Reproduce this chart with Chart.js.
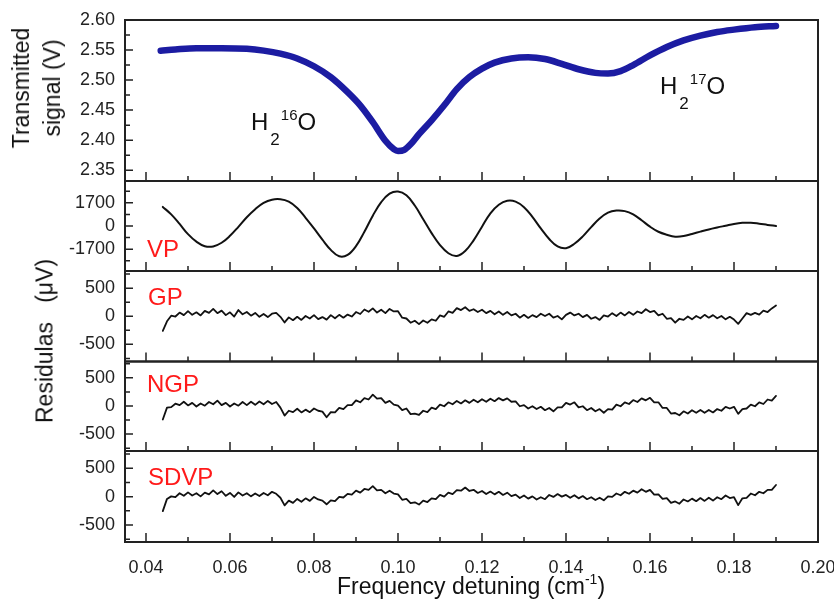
<!DOCTYPE html>
<html>
<head>
<meta charset="utf-8">
<script src="https://cdn.jsdelivr.net/npm/chart.js@4.4.0/dist/chart.umd.min.js"></script>
<style>
  body { margin: 0; background: #fff; }
  #wrap { position: relative; width: 834px; height: 599px; overflow: hidden;
          font-family: "Liberation Sans", Arial, sans-serif; color: #111; }
  #wrap canvas { position: absolute; left: 0; top: 0; }
  .txt { position: absolute; white-space: nowrap; }
  .ytitle { transform: translate(-50%, -50%) rotate(-90deg); text-align: center; font-size: 23px; line-height: 31px; }
  .xtitle { transform: translateX(-50%); font-size: 23px; line-height: 23px; }
  .xtitle sup { font-size: 14px; line-height: 0; vertical-align: 0; position: relative; top: -10px; }
  .iso { font-size: 24px; line-height: 24px; }
  .iso .sb { font-size: 17px; position: relative; top: 15px; margin-left: 2px; }
  .iso .sp { font-size: 15px; position: relative; top: -10px; margin-left: 1px; }
  .lab { font-size: 24px; line-height: 24px; color: #ff1a1a; }
</style>
</head>
<body>
<div id="wrap">
  <canvas id="p1" width="834" height="599"></canvas>
  <canvas id="p2" width="834" height="599"></canvas>
  <canvas id="p3" width="834" height="599"></canvas>
  <canvas id="p4" width="834" height="599"></canvas>
  <canvas id="p5" width="834" height="599"></canvas>

  <div class="txt ytitle" style="left:36.5px;top:87.5px">Transmitted<br>signal (V)</div>
  <div class="txt ytitle" style="left:45px;top:341px">Residulas&nbsp;&nbsp;&nbsp;(μV)</div>
  <div class="txt xtitle" style="left:471px;top:575px">Frequency detuning (cm<sup>-1</sup>)</div>

  <div class="txt iso" style="left:251px;top:109.7px">H<span class="sb">2</span><span class="sp">16</span>O</div>
  <div class="txt iso" style="left:660px;top:73.7px">H<span class="sb">2</span><span class="sp">17</span>O</div>

  <div class="txt lab" style="left:147px;top:236.7px">VP</div>
  <div class="txt lab" style="left:148px;top:284.7px">GP</div>
  <div class="txt lab" style="left:147px;top:371.7px">NGP</div>
  <div class="txt lab" style="left:148px;top:464.7px">SDVP</div>
</div>

<script>
// shared x axis (cm-1)
const xMin = 0.035;
const xMax = 0.20;
const xMajorTicks = [0.04, 0.06, 0.08, 0.10, 0.12, 0.14, 0.16, 0.18, 0.20];
const xMinorTicks = [0.05, 0.07, 0.09, 0.11, 0.13, 0.15, 0.17, 0.19];

// top panel: transmitted signal (V)
const sigX = [0.0435, 0.047, 0.052, 0.058, 0.064, 0.068, 0.072, 0.076, 0.080, 0.084,
              0.088, 0.091, 0.094, 0.097, 0.099, 0.100, 0.1015, 0.103, 0.105, 0.108,
              0.111, 0.114, 0.117, 0.120, 0.123, 0.127, 0.131, 0.135, 0.139, 0.143,
              0.147, 0.150, 0.153, 0.156, 0.160, 0.164, 0.168, 0.172, 0.176, 0.180,
              0.185, 0.190];
const sigV = [2.549, 2.551, 2.553, 2.553, 2.552, 2.549, 2.544, 2.536, 2.523, 2.505,
              2.480, 2.458, 2.430, 2.399, 2.385, 2.382, 2.384, 2.393, 2.410, 2.433,
              2.458, 2.485, 2.505, 2.519, 2.529, 2.536, 2.538, 2.535, 2.527, 2.518,
              2.512, 2.511, 2.515, 2.525, 2.541, 2.555, 2.566, 2.574, 2.580, 2.584,
              2.588, 2.590];
const sigMajor = [2.35, 2.40, 2.45, 2.50, 2.55, 2.60];
const sigMinor = [2.375, 2.425, 2.475, 2.525, 2.575];

// VP residual (uV)
const vpX = [0.044, 0.046, 0.048, 0.050, 0.052, 0.054, 0.056, 0.058, 0.060, 0.062,
             0.064, 0.066, 0.068, 0.070, 0.072, 0.074, 0.076, 0.078, 0.080, 0.082,
             0.084, 0.086, 0.088, 0.090, 0.092, 0.094, 0.096, 0.098, 0.100, 0.102,
             0.104, 0.106, 0.108, 0.110, 0.112, 0.114, 0.116, 0.118, 0.120, 0.122,
             0.124, 0.126, 0.128, 0.130, 0.132, 0.134, 0.136, 0.138, 0.140, 0.142,
             0.144, 0.146, 0.148, 0.150, 0.152, 0.154, 0.156, 0.158, 0.160, 0.162,
             0.164, 0.166, 0.168, 0.170, 0.172, 0.174, 0.176, 0.178, 0.180, 0.182,
             0.184, 0.186, 0.188, 0.190];
const vpV = [1400, 850, 150, -600, -1150, -1480, -1500, -1230, -720, -60,
             640, 1230, 1690, 1930, 1960, 1780, 1320, 600, -180, -1000,
             -1750, -2220, -2120, -1480, -420, 760, 1750, 2370, 2530, 2250,
             1500, 500, -520, -1400, -2000, -2200, -1830, -1050, -50, 930,
             1560, 1850, 1790, 1380, 670, -180, -950, -1500, -1630, -1300,
             -760, -80, 550, 980, 1130, 1090, 850, 420, -50, -420,
             -640, -780, -740, -580, -410, -250, -110, 20, 150, 230,
             240, 170, 80, 0];
const vpMajor = [-1700, 0, 1700];
const vpMinor = [-2550, -850, 850, 2550];

// GP / NGP / SDVP residuals (uV)
const residX = [0.044, 0.045, 0.046, 0.047, 0.048, 0.049, 0.050, 0.051, 0.052, 0.053,
                0.054, 0.055, 0.056, 0.057, 0.058, 0.059, 0.060, 0.061, 0.062, 0.063,
                0.064, 0.065, 0.066, 0.067, 0.068, 0.069, 0.070, 0.071, 0.072, 0.073,
                0.074, 0.075, 0.076, 0.077, 0.078, 0.079, 0.080, 0.081, 0.082, 0.083,
                0.084, 0.085, 0.086, 0.087, 0.088, 0.089, 0.090, 0.091, 0.092, 0.093,
                0.094, 0.095, 0.096, 0.097, 0.098, 0.099, 0.100, 0.101, 0.102, 0.103,
                0.104, 0.105, 0.106, 0.107, 0.108, 0.109, 0.110, 0.111, 0.112, 0.113,
                0.114, 0.115, 0.116, 0.117, 0.118, 0.119, 0.120, 0.121, 0.122, 0.123,
                0.124, 0.125, 0.126, 0.127, 0.128, 0.129, 0.130, 0.131, 0.132, 0.133,
                0.134, 0.135, 0.136, 0.137, 0.138, 0.139, 0.140, 0.141, 0.142, 0.143,
                0.144, 0.145, 0.146, 0.147, 0.148, 0.149, 0.150, 0.151, 0.152, 0.153,
                0.154, 0.155, 0.156, 0.157, 0.158, 0.159, 0.160, 0.161, 0.162, 0.163,
                0.164, 0.165, 0.166, 0.167, 0.168, 0.169, 0.170, 0.171, 0.172, 0.173,
                0.174, 0.175, 0.176, 0.177, 0.178, 0.179, 0.180, 0.181, 0.182, 0.183,
                0.184, 0.185, 0.186, 0.187, 0.188, 0.189, 0.190];
const gpV = [-260, -90, 10, -5, 65, 20, 90, 25, 70, 15,
             95, 60, 130, 55, 100, 20, 70, -5, 110, 35,
             75, 10, 60, -10, 40, -15, 45, 60, -10, -110,
             -20, -70, -10, -65, 5, -40, 20, -50, -15, -60,
             20, -35, 25, -25, 30, -5, 75, 40, 120, 80,
             140, 65, 115, 55, 130, 85, 90, -25, -40, -115,
             -80, -140, -75, -115, -55, -80, 15, -10, 85, 60,
             145, 110, 160, 95, 125, 75, 115, 55, 95, 35,
             85, 25, 75, 15, 45, -25, 25, -30, 20, -15,
             45, 5, 45, -25, 5, -55, 25, 65, 15, 45,
             -15, 25, -45, -15, -65, 15, -5, 55, 5, 65,
             15, 75, 25, 85, 55, 125, 75, 95, 15, 45,
             -45, -35, -115, -45, -65, -5, -55, 5, -35, 25,
             -25, 20, -35, 5, -55, -10, -60, -135, -40, 55,
             25, 60, 30, 100, 75, 140, 190];
const ngpV = [-240, -30, -20, 40, 15, 75, 10, 55, -10, 45,
              5, 70, 30, 95, 15, 55, -10, 45, 5, 70,
              15, 75, 20, 80, 30, 90, 35, 70, -30, -170,
              -85, -110, -50, -115, -65, -110, -45, -85, -100, -200,
              -110, -115, -35, -55, 15, 15, 100, 65, 140, 115,
              200, 130, 140, 55, 90, 25, 5, -75, -45, -145,
              -135, -160, -85, -110, -30, -55, 25, -5, 65, 30,
              90, 45, 100, 55, 110, 65, 120, 75, 130, 85,
              140, 100, 135, 75, 80, -5, 15, -45, -5, -55,
              -15, -75, -35, -95, -25, -25, 55, 25, 65, -25,
              -5, -75, -35, -95, -55, -120, -55, -65, 25, -5,
              65, 35, 105, 70, 135, 100, 145, 65, 65, -35,
              -35, -135, -125, -165, -95, -135, -75, -120, -70, -120,
              -70, -115, -55, -85, -15, -45, -15, -140, -55, -45,
              25, -5, 65, 35, 115, 95, 180];
const sdvpV = [-255, -40, 5, -10, 60, 15, 75, 20, 60, 5,
               70, 40, 110, 45, 95, 15, 65, -5, 75, 20,
               60, 5, 55, 10, 65, 25, 85, 50, -20, -155,
               -70, -110, -40, -90, -30, -75, -5, -50, -70, -135,
               -65, -80, -5, -15, 50, 35, 105, 70, 135, 120,
               185, 110, 120, 60, 105, 55, 40, -55, -40, -115,
               -100, -140, -70, -95, -30, -45, 30, 0, 70, 45,
               115, 105, 160, 100, 120, 65, 100, 45, 90, 40,
               85, 30, 70, 10, 35, -25, 20, -35, 5, -50,
               -10, -45, 30, -5, 45, 0, 30, -20, 25, -30,
               10, -45, -10, -60, -20, -65, 5, -5, 55, 25,
               85, 50, 105, 70, 130, 85, 120, 35, 40, -40,
               -25, -110, -85, -125, -50, -85, -35, -80, -25, -75,
               -20, -70, -10, -45, 20, -25, -10, -150, -30, -20,
               55, 25, 85, 60, 120, 120, 205];
const resMajor = [-500, 0, 500];
const resMinor = [-750, -250, 250, 750];

Chart.defaults.font.family = "'Liberation Sans', Arial, sans-serif";
Chart.defaults.color = '#222';

// box around each panel + inward tick marks
const framePlugin = {
    id: 'frame',
    afterDraw(chart, args, opts) {
        const { ctx, chartArea: a, scales: { x, y } } = chart;
        ctx.save();
        ctx.strokeStyle = '#222';
        ctx.lineWidth = 2;
        ctx.strokeRect(a.left, a.top, a.right - a.left, a.bottom - a.top);
        ctx.lineWidth = 1.5;
        ctx.beginPath();
        xMajorTicks.forEach(v => { const px = x.getPixelForValue(v); ctx.moveTo(px, a.bottom); ctx.lineTo(px, a.bottom - 9); });
        xMinorTicks.forEach(v => { const px = x.getPixelForValue(v); ctx.moveTo(px, a.bottom); ctx.lineTo(px, a.bottom - 5); });
        opts.major.forEach(v => { const py = y.getPixelForValue(v); ctx.moveTo(a.left, py); ctx.lineTo(a.left + 8, py); });
        opts.minor.forEach(v => { const py = y.getPixelForValue(v); ctx.moveTo(a.left, py); ctx.lineTo(a.left + 5, py); });
        ctx.stroke();
        ctx.restore();
    }
};

function makePanel(id, p) {
    const showX = !!p.showX;
    return new Chart(document.getElementById(id), {
        type: 'line',
        data: {
            datasets: [{
                data: p.xs.map((x, i) => ({ x: x, y: p.ys[i] })),
                borderColor: p.color,
                borderWidth: p.width,
                pointRadius: 0,
                tension: p.tension || 0,
                cubicInterpolationMode: p.monotone ? 'monotone' : 'default',
                borderCapStyle: 'round',
                borderJoinStyle: 'round',
                fill: false
            }]
        },
        options: {
            responsive: false,
            animation: false,
            events: [],
            layout: { padding: { top: p.top, bottom: p.bottom, left: 0, right: 16 } },
            plugins: {
                legend: { display: false },
                tooltip: { enabled: false },
                frame: { major: p.yMajor, minor: p.yMinor }
            },
            scales: {
                x: {
                    type: 'linear', min: xMin, max: xMax,
                    display: showX,
                    grid: { display: false, drawTicks: false },
                    border: { display: false },
                    afterBuildTicks: s => { s.ticks = xMajorTicks.map(v => ({ value: v })); },
                    afterFit: s => {
                        if (!showX) return;
                        s.height = 57; s.paddingLeft = 0; s.paddingRight = 0;
                    },
                    ticks: { padding: 15, font: { size: 18 }, color: '#222', maxRotation: 0, autoSkip: false,
                             callback: v => v.toFixed(2) }
                },
                y: {
                    min: p.yMin, max: p.yMax,
                    grid: { display: false, drawTicks: false },
                    border: { display: false },
                    afterBuildTicks: s => { s.ticks = p.yMajor.map(v => ({ value: v })); },
                    afterFit: s => { s.width = 125; s.paddingTop = 0; s.paddingBottom = 0; },
                    ticks: { padding: 10, font: { size: 18 }, color: '#222', autoSkip: false, callback: p.fmt }
                }
            }
        },
        plugins: [framePlugin]
    });
}

const intLabel = v => String(Math.round(v));

makePanel('p1', { xs: sigX, ys: sigV, color: '#1c1ca2', width: 6.5, tension: 0.4, monotone: true,
    top: 20, bottom: 418, yMin: 2.332, yMax: 2.60, yMajor: sigMajor, yMinor: sigMinor, fmt: v => v.toFixed(2) });
makePanel('p2', { xs: vpX, ys: vpV, color: '#111', width: 2, tension: 0.4,
    top: 181, bottom: 328, yMin: -3300, yMax: 3300, yMajor: vpMajor, yMinor: vpMinor, fmt: intLabel });
makePanel('p3', { xs: residX, ys: gpV, color: '#111', width: 1.8,
    top: 271, bottom: 237.5, yMin: -805, yMax: 805, yMajor: resMajor, yMinor: resMinor, fmt: intLabel });
makePanel('p4', { xs: residX, ys: ngpV, color: '#111', width: 1.8,
    top: 361.5, bottom: 148, yMin: -800, yMax: 790, yMajor: resMajor, yMinor: resMinor, fmt: intLabel });
makePanel('p5', { xs: residX, ys: sdvpV, color: '#111', width: 1.8,
    top: 451, bottom: 0, yMin: -800, yMax: 805, yMajor: resMajor, yMinor: resMinor, fmt: intLabel, showX: true });
</script>
</body>
</html>
